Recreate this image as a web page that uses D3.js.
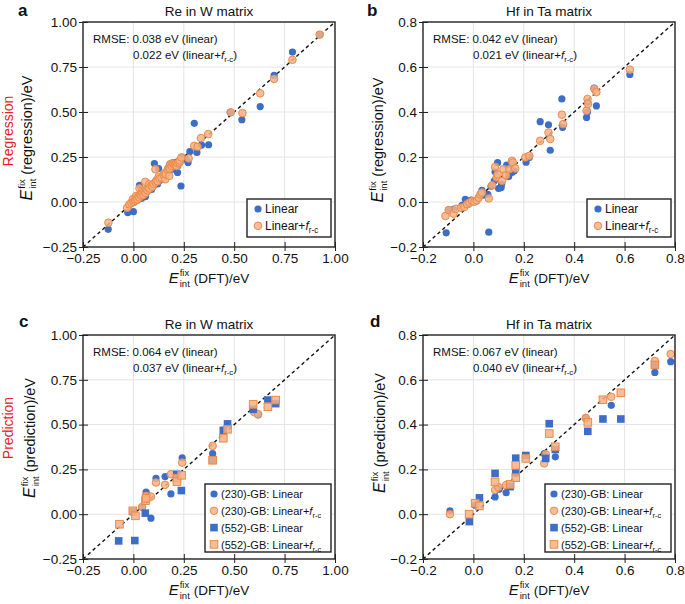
<!DOCTYPE html>
<html>
<meta charset="utf-8">
<head>
<script src="https://cdn.jsdelivr.net/npm/d3@7/dist/d3.min.js"></script>
<style>
body { margin: 0; background: #fff; }
text { font-family: "Liberation Sans", Arial, Helvetica, sans-serif; fill: #111; }
</style>
</head>
<body>
<script>

// ---- data ----
var wTicks = [-0.25, 0, 0.25, 0.5, 0.75, 1.0];
var taTicks = [-0.2, 0, 0.2, 0.4, 0.6, 0.8];

var aLinear = [[-0.125,-0.152],[-0.028,-0.059],[0.0,-0.054],[0.005,0.0],[0.01,0.02],[0.02,0.01],[0.03,0.093],[0.03,0.03],
  [0.04,0.02],[0.05,0.045],[0.059,0.061],[0.06,0.03],[0.07,0.06],[0.08,0.075],[0.09,0.07],[0.1,0.09],[0.104,0.214],
  [0.112,0.117],[0.12,0.1],[0.125,0.186],[0.13,0.12],[0.14,0.13],[0.153,0.141],[0.162,0.154],[0.17,0.17],[0.181,0.21],
  [0.18,0.19],[0.195,0.182],[0.198,0.219],[0.2,0.2],[0.21,0.22],[0.219,0.164],[0.22,0.2],[0.23,0.22],[0.236,0.089],
  [0.24,0.25],[0.26,0.24],[0.271,0.219],[0.28,0.28],[0.302,0.437],[0.315,0.275],[0.338,0.316],[0.373,0.318],
  [0.48,0.498],[0.538,0.457],[0.629,0.53],[0.698,0.703],[0.789,0.833],[0.924,0.93]];
var aLinearFrc = [[-0.124,-0.115],[-0.031,-0.032],[-0.02,-0.013],[-0.01,-0.005],[-0.003,0.015],[0.0,0.0],[0.005,0.008],
  [0.01,0.01],[0.013,0.033],[0.015,0.02],[0.02,0.015],[0.025,0.03],[0.03,0.076],[0.03,0.025],[0.035,0.04],[0.04,0.035],
  [0.043,0.061],[0.045,0.05],[0.05,0.04],[0.055,0.06],[0.059,0.112],[0.06,0.05],[0.065,0.07],[0.07,0.065],[0.075,0.08],
  [0.079,0.099],[0.08,0.075],[0.09,0.09],[0.095,0.085],[0.1,0.1],[0.109,0.182],[0.11,0.11],[0.115,0.12],[0.12,0.115],
  [0.125,0.14],[0.13,0.13],[0.14,0.135],[0.15,0.15],[0.155,0.16],[0.158,0.126],[0.16,0.155],[0.17,0.18],[0.175,0.19],
  [0.178,0.145],[0.18,0.2],[0.181,0.186],[0.185,0.21],[0.19,0.2],[0.195,0.215],[0.2,0.21],[0.205,0.205],[0.211,0.21],
  [0.215,0.2],[0.22,0.215],[0.228,0.219],[0.23,0.23],[0.238,0.247],[0.274,0.242],[0.302,0.312],[0.318,0.307],
  [0.335,0.355],[0.371,0.377],[0.483,0.498],[0.541,0.494],[0.629,0.604],[0.698,0.684],[0.789,0.79],[0.924,0.93]];

var bLinear = [[-0.108,-0.137],[-0.098,-0.036],[-0.079,-0.033],[-0.045,-0.015],[-0.032,0.012],[-0.02,-0.01],[-0.009,0.009],
  [0.0,0.005],[0.011,0.004],[0.02,0.02],[0.034,0.052],[0.04,0.03],[0.057,0.034],[0.061,-0.134],[0.07,0.07],[0.083,0.094],
  [0.086,0.134],[0.096,0.175],[0.1,0.06],[0.11,0.064],[0.112,0.079],[0.132,0.164],[0.14,0.113],[0.149,0.168],
  [0.153,0.131],[0.162,0.138],[0.209,0.177],[0.222,0.198],[0.265,0.357],[0.298,0.343],[0.305,0.23],[0.351,0.458],
  [0.354,0.332],[0.449,0.376],[0.453,0.401],[0.453,0.443],[0.479,0.506],[0.488,0.427],[0.621,0.567]];
var bLinearFrc = [[-0.111,-0.062],[-0.098,-0.036],[-0.079,-0.052],[-0.069,-0.03],[-0.049,-0.025],[-0.036,-0.022],
  [-0.025,-0.01],[-0.016,-0.003],[-0.005,0.004],[0.004,0.001],[0.013,0.007],[0.021,0.019],[0.028,0.034],[0.034,0.042],
  [0.061,0.016],[0.074,0.074],[0.086,0.156],[0.092,0.109],[0.096,0.123],[0.114,0.094],[0.119,0.146],[0.129,0.119],
  [0.143,0.146],[0.153,0.183],[0.156,0.175],[0.166,0.149],[0.206,0.198],[0.222,0.205],[0.265,0.272],[0.298,0.309],
  [0.305,0.28],[0.351,0.388],[0.356,0.346],[0.449,0.406],[0.453,0.458],[0.455,0.436],[0.48,0.503],[0.488,0.488],
  [0.621,0.588]];

var c230Linear = [[0.043,0.039],[0.063,0.123],[0.087,-0.022],[0.112,0.2],[0.157,0.21],[0.186,0.113],[0.215,0.218],
  [0.242,0.314],[0.393,0.338],[0.619,0.554]];
var c230LinearFrc = [[0.043,0.04],[0.063,0.102],[0.087,0.098],[0.112,0.177],[0.157,0.164],[0.186,0.223],[0.242,0.288],
  [0.393,0.381],[0.6,0.569],[0.619,0.558]];
var c552Linear = [[-0.073,-0.149],[-0.003,0.015],[0.007,-0.147],[0.059,0.006],[0.215,0.223],[0.238,0.132],[0.393,0.301],
  [0.446,0.468],[0.467,0.504],[0.594,0.585],[0.667,0.637],[0.706,0.617]];
var c552LinearFrc = [[-0.069,-0.056],[-0.003,0.019],[0.01,-0.009],[0.06,0.076],[0.063,0.089],[0.216,0.201],[0.216,0.182],
  [0.239,0.217],[0.393,0.301],[0.446,0.424],[0.467,0.474],[0.594,0.613],[0.667,0.6],[0.706,0.637]];

var d230Linear = [[-0.093,0.015],[0.007,0.04],[0.086,0.077],[0.102,0.111],[0.13,0.096],[0.281,0.27],[0.325,0.256],
  [0.446,0.428],[0.547,0.486],[0.72,0.633],[0.783,0.681]];
var d230LinearFrc = [[-0.093,0.0],[0.086,0.108],[0.099,0.121],[0.13,0.13],[0.281,0.227],[0.287,0.267],[0.446,0.43],
  [0.547,0.524],[0.72,0.684],[0.783,0.715]];
var d552Linear = [[-0.016,-0.033],[0.024,0.073],[0.086,0.182],[0.146,0.123],[0.168,0.25],[0.168,0.185],[0.208,0.262],
  [0.287,0.249],[0.301,0.404],[0.325,0.289],[0.454,0.37],[0.514,0.425],[0.585,0.425],[0.72,0.665]];
var d552LinearFrc = [[-0.017,0.0],[0.007,0.049],[0.024,0.037],[0.086,0.144],[0.146,0.133],[0.168,0.218],[0.168,0.163],
  [0.208,0.249],[0.301,0.36],[0.325,0.301],[0.454,0.41],[0.514,0.511],[0.585,0.542],[0.72,0.666]];

var blue = "#3b6dc9", orFill = "#f6b286", orStroke = "#ec8a48";

var panels = [
  {letter:"a", lx:18, ly:16, left:83, top:22, h:225, ticks:wTicks, fmt:".2f", title:"Re in W matrix",
   ylab:"(regression)/eV", ylx:32, ylc:138, side:"Regression", sidec:131, rmse:["0.038","0.022"],
   series:[{d:aLinear, shape:"c", or:false, lab:"Linear"}, {d:aLinearFrc, shape:"c", or:true, lab:"Linear+"}]},
  {letter:"b", lx:367, ly:16, left:423, top:22, h:225, ticks:taTicks, fmt:".1f", title:"Hf in Ta matrix",
   ylab:"(regression)/eV", ylx:383, ylc:140, side:null, rmse:["0.042","0.021"],
   series:[{d:bLinear, shape:"c", or:false, lab:"Linear"}, {d:bLinearFrc, shape:"c", or:true, lab:"Linear+"}]},
  {letter:"c", lx:19, ly:327, left:83, top:335, h:224, ticks:wTicks, fmt:".2f", title:"Re in W matrix",
   ylab:"(prediction)/eV", ylx:35, ylc:438, side:"Prediction", sidec:428, rmse:["0.064","0.037"],
   series:[{d:c230Linear, shape:"c", or:false, lab:"(230)-GB: Linear"}, {d:c230LinearFrc, shape:"c", or:true, lab:"(230)-GB: Linear+"},
           {d:c552Linear, shape:"s", or:false, lab:"(552)-GB: Linear"}, {d:c552LinearFrc, shape:"s", or:true, lab:"(552)-GB: Linear+"}]},
  {letter:"d", lx:370, ly:327, left:423, top:335, h:224, ticks:taTicks, fmt:".1f", title:"Hf in Ta matrix",
   ylab:"(prediction)/eV", ylx:385, ylc:433, side:null, rmse:["0.067","0.040"],
   series:[{d:d230Linear, shape:"c", or:false, lab:"(230)-GB: Linear"}, {d:d230LinearFrc, shape:"c", or:true, lab:"(230)-GB: Linear+"},
           {d:d552Linear, shape:"s", or:false, lab:"(552)-GB: Linear"}, {d:d552LinearFrc, shape:"s", or:true, lab:"(552)-GB: Linear+"}]}
];

var svg = d3.select("body").append("svg").attr("width", 685).attr("height", 604);
var PW = 252;

function frc(t, prefix, suffix) {
  t.append("tspan").text(prefix);
  t.append("tspan").attr("font-style", "italic").text("f");
  t.append("tspan").attr("font-size", "0.68em").attr("dy", 3).text("r-c");
  if (suffix) t.append("tspan").attr("dy", -3).text(suffix);
}

function eLabel(g, rest, x, y, rot, fs) {
  var t = g.append("g").attr("transform", "translate(" + x + "," + y + ")" + (rot ? " rotate(-90)" : ""));
  var e = t.append("text").attr("x", 0).attr("font-style", "italic").attr("font-size", fs + 1.5).text("E");
  var we = e.node().getComputedTextLength();
  var sup = t.append("text").attr("x", we + 1).attr("y", -7).attr("font-size", 9.5).text("fix");
  var sub = t.append("text").attr("x", we + 1).attr("y", 4).attr("font-size", 9.5).text("int");
  var ws = Math.max(sup.node().getComputedTextLength(), sub.node().getComputedTextLength());
  var r = t.append("text").attr("x", we + ws + 5).attr("font-size", fs).text(rest);
  var total = we + ws + 5 + r.node().getComputedTextLength();
  t.selectAll("text").attr("x", function() { return +d3.select(this).attr("x") - total / 2; });
}

function marker(g, shape, or, cx, cy) {
  var m;
  if (shape == "c") {
    m = g.append("circle").attr("cx", cx).attr("cy", cy).attr("r", or ? 3.8 : 3.6);
  } else {
    m = g.append("rect").attr("x", cx - 3.8).attr("y", cy - 3.8).attr("width", 7.6).attr("height", 7.6);
  }
  if (or) m.attr("fill", orFill).attr("fill-opacity", 0.85).attr("stroke", orStroke).attr("stroke-width", 1);
  else m.attr("fill", blue);
}

panels.forEach(function(p) {
  var dom = [p.ticks[0], p.ticks[p.ticks.length - 1]];
  var x = d3.scaleLinear().domain(dom).range([p.left, p.left + PW]);
  var y = d3.scaleLinear().domain(dom).range([p.top + p.h, p.top]);
  var g = svg.append("g");
  var cx = p.left + PW / 2;

  // grid
  g.selectAll(".gx").data(p.ticks.slice(1, -1)).enter().append("line")
    .attr("x1", x).attr("x2", x).attr("y1", p.top).attr("y2", p.top + p.h)
    .attr("stroke", "#e4e4e4").attr("stroke-width", 1);
  g.selectAll(".gy").data(p.ticks.slice(1, -1)).enter().append("line")
    .attr("y1", y).attr("y2", y).attr("x1", p.left).attr("x2", p.left + PW)
    .attr("stroke", "#e4e4e4").attr("stroke-width", 1);

  // axes
  var f = d3.format(p.fmt);
  var ax = g.append("g").attr("transform", "translate(0," + (p.top + p.h) + ")")
    .call(d3.axisBottom(x).tickValues(p.ticks).tickFormat(f).tickSize(4).tickPadding(2));
  var ay = g.append("g").attr("transform", "translate(" + p.left + ",0)")
    .call(d3.axisLeft(y).tickValues(p.ticks).tickFormat(f).tickSize(4).tickPadding(2));
  ax.select(".domain").remove();
  ay.select(".domain").remove();
  ax.selectAll(".tick line").attr("y1", -5).attr("stroke", "#222");
  ay.selectAll(".tick line").attr("x1", 5).attr("stroke", "#222");
  [ax, ay].forEach(function(a) {
    a.selectAll(".tick text").attr("font-size", 13.5).attr("fill", "#111")
      .attr("font-family", "'Liberation Sans', Arial, sans-serif");
  });

  // diagonal
  g.append("line").attr("x1", x(dom[0])).attr("y1", y(dom[0])).attr("x2", x(dom[1])).attr("y2", y(dom[1]))
    .attr("stroke", "#111").attr("stroke-width", 1.4).attr("stroke-dasharray", "3.5,3");

  // points
  p.series.forEach(function(s) {
    var sg = g.append("g");
    s.d.forEach(function(v) { marker(sg, s.shape, s.or, x(v[0]), y(v[1])); });
  });

  // frame
  g.append("rect").attr("x", p.left).attr("y", p.top).attr("width", PW).attr("height", p.h)
    .attr("fill", "none").attr("stroke", "#222").attr("stroke-width", 1.4);

  // rmse
  g.append("text").attr("x", p.left + 10).attr("y", p.top + 21).attr("font-size", 11.5)
    .text("RMSE: " + p.rmse[0] + " eV (linear)");
  frc(g.append("text").attr("x", p.left + 50).attr("y", p.top + 37).attr("font-size", 11.5),
    p.rmse[1] + " eV (linear+", ")");

  // legend
  var n = p.series.length;
  var lw = n == 2 ? 84 : 126, lh = n == 2 ? 38 : 68;
  var lx = p.left + PW - 4 - lw, ly = p.top + p.h - (n == 2 ? 10 : 7) - lh;
  var lg = g.append("g");
  lg.append("rect").attr("x", lx).attr("y", ly).attr("width", lw).attr("height", lh)
    .attr("fill", "#fff").attr("stroke", "#222").attr("stroke-width", 1.4);
  p.series.forEach(function(s, i) {
    var yy = ly + 10 + i * 16.8;
    marker(lg, s.shape, s.or, lx + (n == 2 ? 11 : 9), yy);
    var t = lg.append("text").attr("x", lx + (n == 2 ? 18 : 16)).attr("y", yy + 4.2).attr("font-size", n == 2 ? 12 : 11);
    if (s.or) frc(t, s.lab, null); else t.text(s.lab);
  });

  // titles & labels
  g.append("text").attr("x", cx).attr("y", p.top - 6).attr("text-anchor", "middle").attr("font-size", 13.5).text(p.title);
  g.append("text").attr("x", p.lx).attr("y", p.ly).attr("font-size", 17).attr("font-weight", "bold").text(p.letter);
  eLabel(g, "(DFT)/eV", cx, p.top + p.h + 36, false, 13.5);
  eLabel(g, p.ylab, p.ylx, p.ylc, true, 14.5);
  if (p.side) {
    g.append("text").attr("transform", "translate(13," + p.sidec + ") rotate(-90)")
      .attr("text-anchor", "middle").attr("font-size", 14).style("fill", "#e8202a").text(p.side);
  }
});

</script>
</body>
</html>
